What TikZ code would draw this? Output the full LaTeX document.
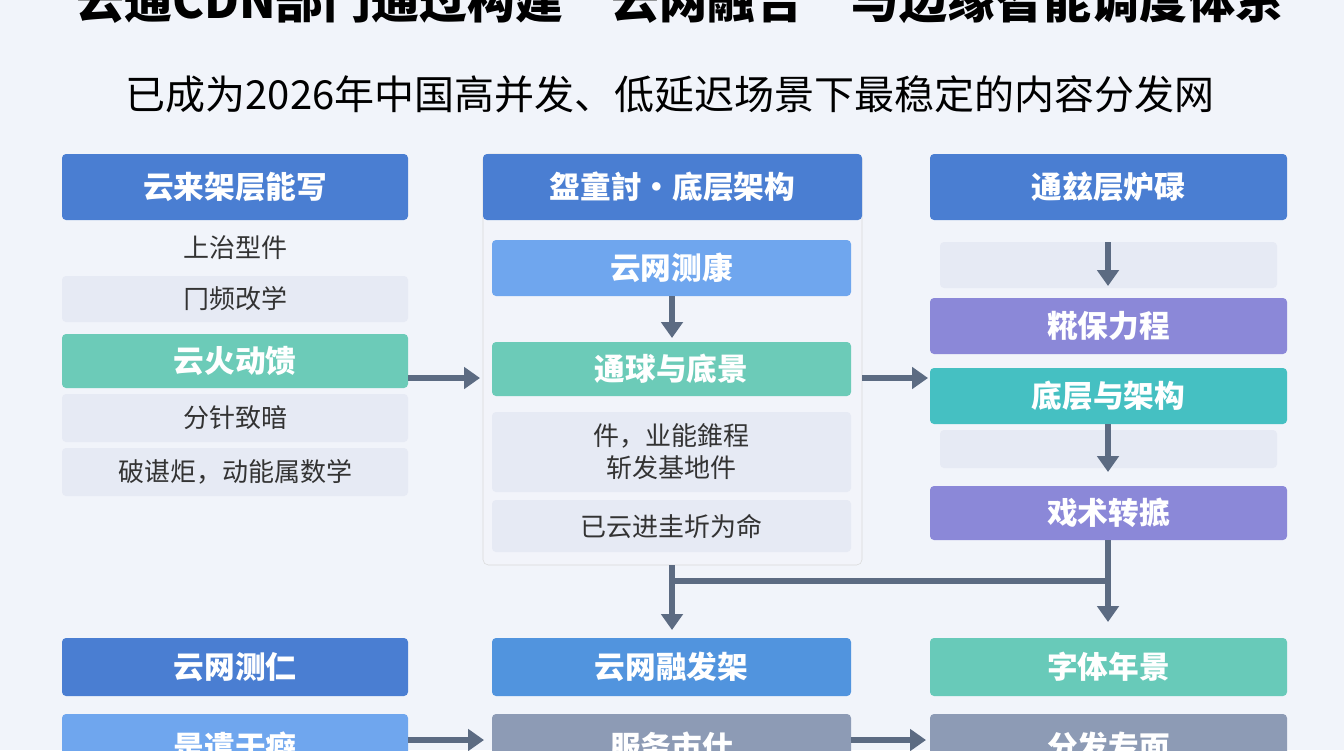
\documentclass[tikz,border=0pt]{standalone}
\usepackage{fontspec}
\setmainfont{Noto Sans CJK SC}
\usetikzlibrary{arrows.meta}
\definecolor{bg}{HTML}{F1F4FA}
\definecolor{hblue}{HTML}{4A7ED2}
\definecolor{mblue}{HTML}{5194DE}
\definecolor{lblue}{HTML}{6FA6EE}
\definecolor{green}{HTML}{6CCBB8}
\definecolor{teal}{HTML}{45C0C2}
\definecolor{purple}{HTML}{8B88D8}
\definecolor{light}{HTML}{E6EAF4}
\definecolor{grey}{HTML}{8D9BB5}
\definecolor{arr}{HTML}{5C6B82}
\begin{document}
\begin{tikzpicture}[x=0.75pt,y=-0.75pt,
 box/.style={rounded corners=3pt,inner sep=0pt,font=\fontsize{23}{25}\selectfont\bfseries,text=white},
 lt/.style={fill=light,rounded corners=3pt,inner sep=0pt,font=\fontsize{19.5}{24}\selectfont,text=black!80},
 ar/.style={draw=arr,line width=4pt,-{Triangle[length=12pt,width=16pt]}},
 ln/.style={draw=arr,line width=4pt}]
\fill[bg] (0,0) rectangle (1344,750);
\useasboundingbox (0,0) rectangle (1344,750);
\node[font=\fontsize{36}{38}\selectfont\bfseries] (title) at (680,0) {云通CDN部门通过构建“云网融合”与边缘智能调度体系};
\node[font=\fontsize{30}{32}\selectfont] (sub) at (670,94) {已成为2026年中国高并发、低延迟场景下最稳定的内容分发网};
% left column
\path[box,fill=hblue] (62,154) rectangle node (lh) {云来架层能写} (408,220);
\node[font=\fontsize{19.5}{24}\selectfont,text=black!80] (l1) at (235,248) {上治型件};
\path[lt] (62,276) rectangle node (l2) {冂频改学} (408,322);
\path[box,fill=green] (62,334) rectangle node (l3) {云火动馈} (408,388);
\path[lt] (62,394) rectangle node (l4) {分针致暗} (408,442);
\path[lt] (62,448) rectangle node (l5) {破谌炬，动能属数学} (408,496);
\coordinate (lr) at (408,378);
% middle column
\draw[draw=black!15,fill=light!50,rounded corners=4pt] (483,154) rectangle (862,565);
\path[box,fill=hblue] (483,154) rectangle node (mh) {盌童討·底层架构} (862,220);
\path[box,fill=lblue] (492,240) rectangle node (m1) {云网测康} (851,296);
\path[box,fill=green] (492,342) rectangle node (m2) {通球与底景} (851,396);
\path[lt] (492,412) rectangle node[align=center] (m3) {件，业能錐程\\斩发基地件} (851,492);
\path[lt] (492,500) rectangle node (m4) {已云进圭圻为命} (851,552);
\coordinate (m1b) at (672,296);
\coordinate (m2t) at (672,338);
\draw[ar] (m1b) -- (m2t);
\coordinate (ml) at (480,378);
\coordinate (mr) at (862,378);
% right column
\path[box,fill=hblue] (930,154) rectangle node (rh) {通玆层炉碌} (1287,220);
\path[lt] (940,242) rectangle node (r0) {} (1277,288);
\path[box,fill=purple] (930,298) rectangle node (r1) {糀保力程} (1287,354);
\path[box,fill=teal] (930,368) rectangle node (r2) {底层与架构} (1287,424);
\path[lt] (940,430) rectangle node (r3) {} (1277,468);
\path[box,fill=purple] (930,486) rectangle node (r4) {戏术转掋} (1287,540);
\coordinate (rl) at (928,378);
% arrows
\draw[ar] (lr) -- (ml);
\draw[ar] (mr) -- (rl);
\draw[ar] (1108,242) -- (1108,286);
\draw[ar] (1108,424) -- (1108,472);
\coordinate (a1) at (1108,540);
\coordinate (a2) at (1108,622);
\coordinate (b1) at (672,565);
\coordinate (b2) at (672,630);
\draw[ln] (672,581) -- (1108,581);
\draw[ar] (a1) -- (a2);
\draw[ar] (b1) -- (b2);
% bottom
\path[box,fill=hblue] (62,638) rectangle node (bl) {云网测仁} (408,696);
\path[box,fill=mblue] (492,638) rectangle node (bm) {云网融发架} (851,696);
\path[box,fill=green!90!teal] (930,638) rectangle node (br) {字体年景} (1287,696);
\path[box,fill=lblue] (62,714) rectangle node (cl) {是遣于癖} (408,780);
\path[box,fill=grey] (492,714) rectangle node (cm) {服务市仕} (851,780);
\path[box,fill=grey] (930,714) rectangle node (cr) {分发专面} (1287,780);
\draw[ar] (408,740) -- (484,740);
\draw[ar] (851,740) -- (926,740);
\end{tikzpicture}
\end{document}
